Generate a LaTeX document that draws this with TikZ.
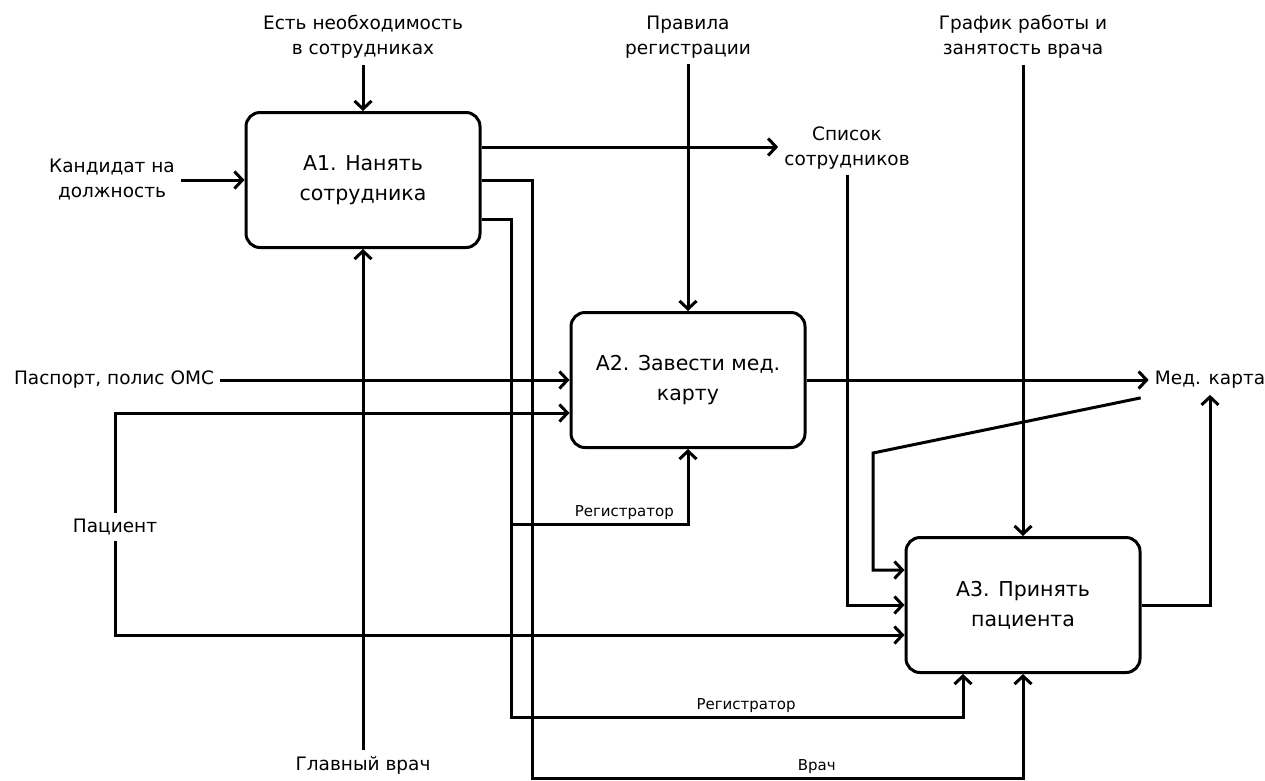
\documentclass[tikz,border=0pt]{standalone}
\usepackage{fontspec}
\setmainfont{DejaVu Sans}
\usetikzlibrary{arrows.meta, positioning, calc}

\begin{document}
\begin{tikzpicture}[x=1pt, y=-1pt,
  func/.style={draw, line width=3pt, rounded corners=14pt, minimum width=234pt, minimum height=135pt, align=center, font=\fontsize{20.5}{30}\selectfont},
  lbl/.style={align=center, font=\fontsize{18.5}{25}\selectfont, inner sep=6pt},
  small/.style={font=\fontsize{15}{17}\selectfont, inner sep=3pt},
  flow/.style={line width=3pt, -{Straight Barb[length=8pt, width=17pt, line width=3pt]}}]
  \useasboundingbox (0,0) rectangle (1265,780);

  % Functions
  \node[func] (a1) at (363,180) {А1. Нанять\\сотрудника};
  \node[func] (a2) at (688,380) {А2. Завести мед.\\карту};
  \node[func] (a3) at (1023,605) {А3. Принять\\пациента};

  % Outer labels
  \node[lbl] (need) at (363,37) {Есть необходимость\\в сотрудниках};
  \node[lbl] (rules) at (688,37) {Правила\\регистрации};
  \node[lbl] (sched) at (1023,37) {График работы и\\занятость врача};
  \node[lbl] (cand) at (112,180) {Кандидат на\\должность};
  \node[lbl] (pasp) at (114,380) {Паспорт, полис ОМС};
  \node[lbl] (pat) at (115,527) {Пациент};
  \node[lbl] (staff) at (847,148) {Список\\сотрудников};
  \node[lbl] (card) at (1210,380) {Мед. карта};
  \node[lbl] (chief) at (363,765) {Главный врач};

  \coordinate (bend) at (873,453);
  \coordinate (reg1) at (511,524);
  \coordinate (reg2) at (511,717);
  \coordinate (doc) at (532,778);

  % Controls
  \draw[flow] (need) -- (a1);
  \draw[flow] (rules) -- (a2);
  \draw[flow] (sched) -- (a3);

  % Inputs
  \draw[flow] (cand) -- (a1);
  \draw[flow] (pasp) -- (a2);
  \draw[flow] (pat.north) |- ($(a2.west)+(0,33)$);
  \draw[flow] (pat.south) |- ($(a3.west)+(0,30)$);
  \draw[flow] (staff.south) |- (a3.west);
  \draw[flow] ($(card.south west)+(-8,3)$) -- (bend) |- ($(a3.west)+(0,-35)$);

  % Outputs
  \draw[flow] ($(a1.east)+(0,-33)$) -- (staff.west |- {$(a1.east)+(0,-33)$});
  \draw[flow] (a2) -- (card);
  \draw[flow] (a3.east) -| (card.south);

  % Mechanisms
  \draw[flow] (chief) -- (a1);
  \draw[flow] ($(a1.east)+(0,39)$) -| (reg1) -| node[small, pos=0.32, above] {Регистратор} (a2.south);
  \draw[flow] (reg1) -- (reg2) -| node[small, pos=0.26, above] {Регистратор} ($(a3.south)+(-60,0)$);
  \draw[flow] (a1.east) -| (doc) -| node[small, pos=0.29, above] {Врач} (a3.south);
\end{tikzpicture}
\end{document}
